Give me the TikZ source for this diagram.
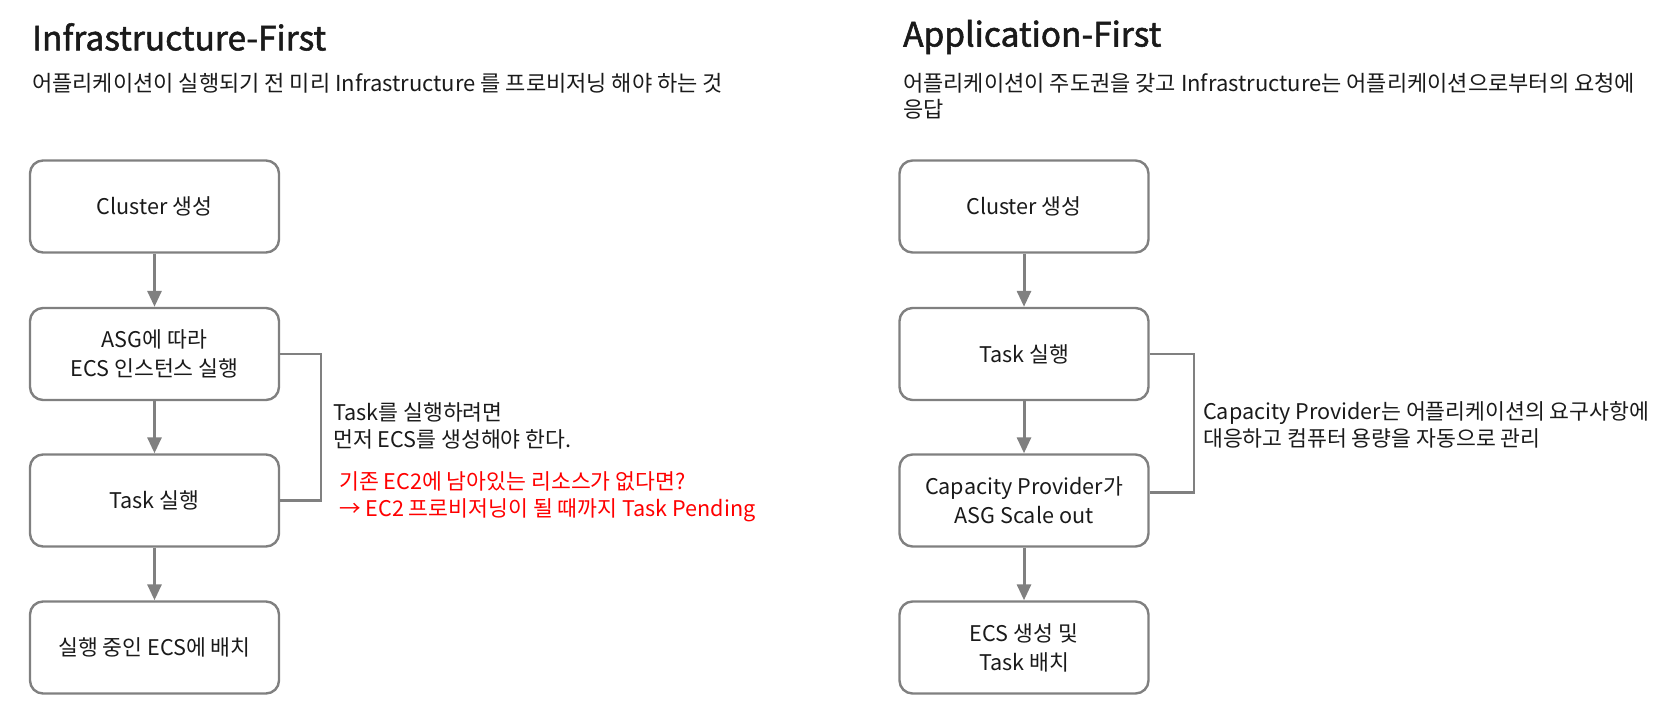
\documentclass[tikz,border=0pt]{standalone}
\usepackage{fontspec}
\setmainfont{Noto Sans CJK KR}
\newfontfamily\headfont{Noto Sans CJK KR}[FakeBold=1.6]
\usepackage{xcolor}
\usepackage{tikz}
\usetikzlibrary{positioning,arrows.meta}
\definecolor{linegray}{HTML}{808080}
\definecolor{inkblack}{HTML}{1A1A1A}
\tikzset{
  % --- headings --------------------------------------------------------------
  headline/.style={anchor=west,inner sep=0pt,text=inkblack,
                   font=\headfont\fontsize{33.5}{38}\selectfont},
  subline/.style={anchor=west,inner sep=0pt,text=inkblack,align=left,
                  font=\fontsize{22}{26}\selectfont},
  % --- flow boxes -------------------------------------------------------------
  stepbox/.style={rectangle,rounded corners=13pt,draw=linegray,line width=2.4pt,
                  minimum width=249pt,minimum height=92pt,align=center,
                  text=inkblack,font=\fontsize{21.6}{29}\selectfont},
  flow/.style={-{Triangle[length=16pt,width=14pt]},linegray,line width=3pt},
  bracket/.style={linegray,line width=2.4pt},
  % --- side notes -------------------------------------------------------------
  note/.style={anchor=west,inner sep=0pt,align=left,text=inkblack,
               font=\fontsize{21.6}{27}\selectfont},
  warn/.style={note,text=red},
}
\begin{document}
\begin{tikzpicture}[x=1pt, y={(0pt,-1pt)}]
  \useasboundingbox (0,0) rectangle (1670,710);

  % Infrastructure-First
  \node[headline] (ihead) at (32,37) {Infrastructure-First};
  \node[subline]  (isub)  at (32,83)
    {어플리케이션이 실행되기 전 미리 Infrastructure 를 프로비저닝 해야 하는 것};

  \node[stepbox] (i1) at (154.5,206.5) {Cluster 생성};
  \node[stepbox] (i2) at (154.5,354)   {ASG에 따라\\ECS 인스턴스 실행};
  \node[stepbox] (i3) at (154.5,500.5) {Task 실행};
  \node[stepbox] (i4) at (154.5,647.5) {실행 중인 ECS에 배치};

  \draw[flow] (i1) -- (i2);
  \draw[flow] (i2) -- (i3);
  \draw[flow] (i3) -- (i4);
  \draw[bracket] (i2.east) -- ++(41,0) |- (i3.east);

  \node[note] (inote) at (333,425.5) {Task를 실행하려면\\먼저 ECS를 생성해야 한다.};
  \node[warn] (iwarn) at (339,497)
    {기존 EC2에 남아있는 리소스가 없다면?\\→ EC2 프로비저닝이 될 때까지 Task Pending};

  % Application-First
  \node[headline] (ahead) at (903,37) {Application-First};
  \node[subline]  (asub)  at (903,96)
    {어플리케이션이 주도권을 갖고 Infrastructure는 어플리케이션으로부터의 요청에\\응답};

  \node[stepbox] (p1) at (1024,206.5) {Cluster 생성};
  \node[stepbox] (p2) at (1024,354)   {Task 실행};
  \node[stepbox] (p3) at (1024,500.5) {Capacity Provider가\\ASG Scale out};
  \node[stepbox] (p4) at (1024,647.5) {ECS 생성 및\\Task 배치};

  \draw[flow] (p1) -- (p2);
  \draw[flow] (p2) -- (p3);
  \draw[flow] (p3) -- (p4);
  % the bracket meets the third box a little above its middle
  \draw[bracket] (p2.east) -- ++(44,0) |- ([yshift=8pt]p3.east);

  \node[note] (anote) at (1203,424.5)
    {Capacity Provider는 어플리케이션의 요구사항에\\대응하고 컴퓨터 용량을 자동으로 관리};
\end{tikzpicture}
\end{document}
